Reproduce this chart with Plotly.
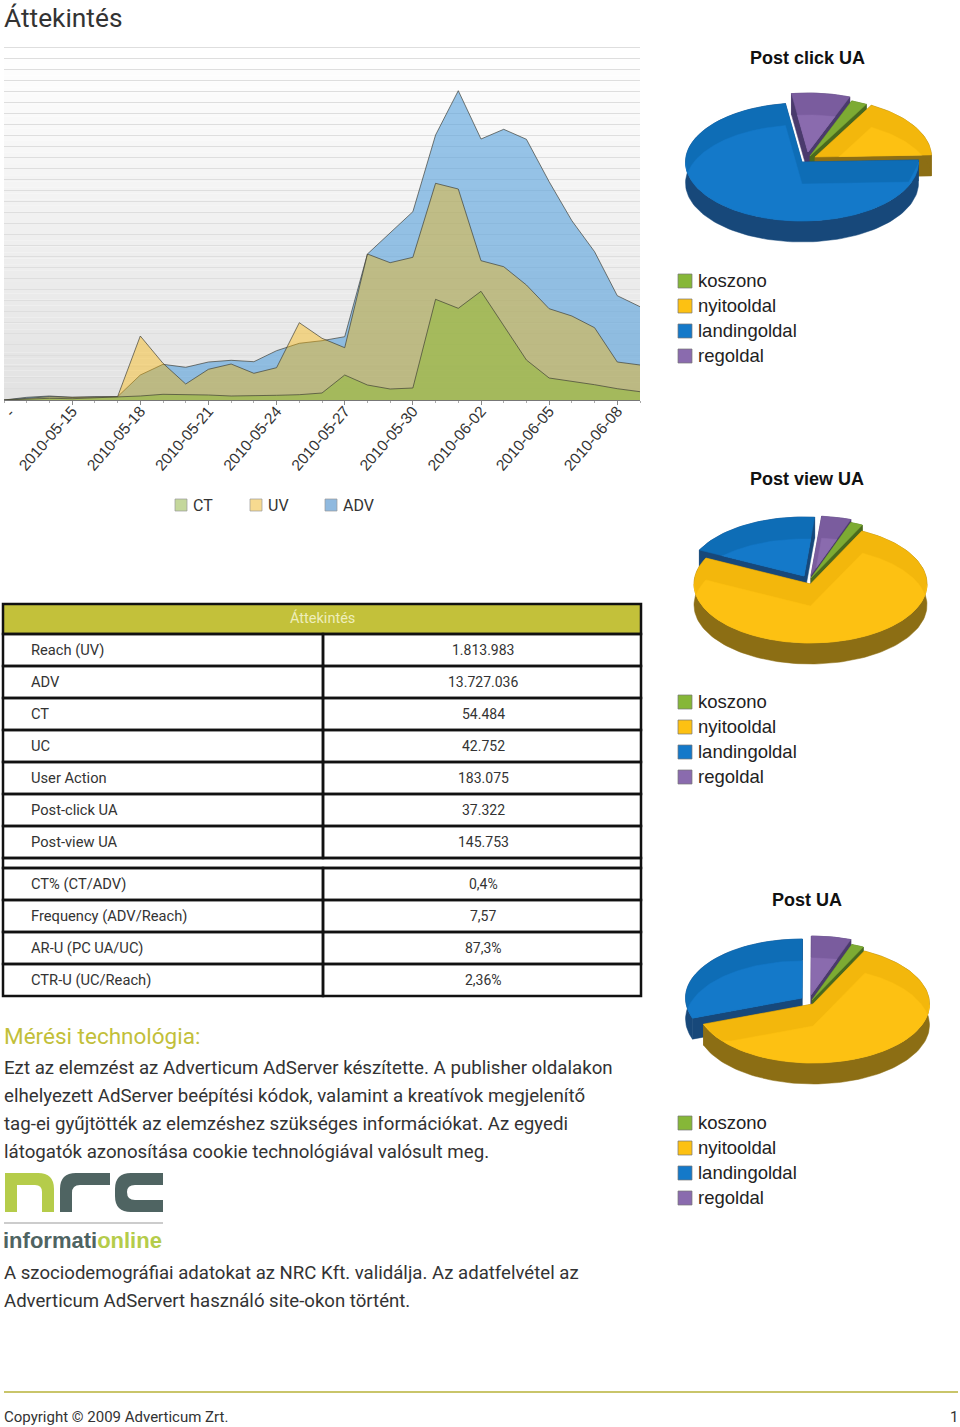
import math
import plotly.graph_objects as go

# ---------- data ----------
dates = ["2010-05-12","2010-05-13","2010-05-14","2010-05-15","2010-05-16","2010-05-17","2010-05-18",
         "2010-05-19","2010-05-20","2010-05-21","2010-05-22","2010-05-23","2010-05-24","2010-05-25",
         "2010-05-26","2010-05-27","2010-05-28","2010-05-29","2010-05-30","2010-05-31","2010-06-01",
         "2010-06-02","2010-06-03","2010-06-04","2010-06-05","2010-06-06","2010-06-07","2010-06-08","2010-06-09"]
adv = [0,2.7,4,2.7,3.3,3.3,25,35.7,32.7,38,39.7,38.3,49.3,56.7,59.3,63.3,146,166.7,188.3,265,309.3,261,270.7,260.7,218.3,179.3,148.3,104.3,93.3]
uv = [0,1.7,3.3,2.7,3.3,3.3,64,36.7,16,30.7,36,26.7,32.3,77.3,61.7,52.3,146,137.3,142.7,216.7,211,139.3,133.3,115,91.3,84,72.3,38,35]
ct = [0,0.7,1.7,1.3,2,2.7,4,5.7,5.7,5,4,4,4.7,5.3,7,25,15,11,12,100.7,91.7,108.7,75,40,22,19,15.3,11.3,8.3]
tick_dates = ["2010-05-15","2010-05-18","2010-05-21","2010-05-24","2010-05-27","2010-05-30","2010-06-02","2010-06-05","2010-06-08"]
tick_labels = list(tick_dates)

slice_labels = ["koszono","nyitooldal","landingoldal","regoldal"]
post_click_values = [2.2,16.4,73.3,8.1]
post_view_values = [1.7,75.0,19.2,4.1]
post_ua_values = [1.7,62.2,30.6,5.5]

row_labels_a = ["Reach (UV)","ADV","CT","UC","User Action","Post-click UA","Post-view UA"]
row_values_a = ["1.813.983","13.727.036","54.484","42.752","183.075","37.322","145.753"]
row_labels_b = ["CT% (CT/ADV)","Frequency (ADV/Reach)","AR-U (PC UA/UC)","CTR-U (UC/Reach)"]
row_values_b = ["0,4%","7,57","87,3%","2,36%"]

body_a = ["Ezt az elemzést az Adverticum AdServer készítette. A publisher oldalakon",
          "elhelyezett AdServer beépítési kódok, valamint a kreatívok megjelenítő",
          "tag-ei gyűjtötték az elemzéshez szükséges információkat. Az egyedi",
          "látogatók azonosítása cookie technológiával valósult meg."]
body_b = ["A szociodemográfiai adatokat az NRC Kft. validálja. Az adatfelvétel az",
          "Adverticum AdServert használó site-okon történt."]

# ---------- style ----------
W, H = 960, 1427
BODY = "Roboto"
SANS = "Liberation Sans"
TXT = "#333333"
slice_top = {"koszono":"#7dab33","nyitooldal":"#f3b70c","landingoldal":"#0e6db6","regoldal":"#7a5c9e"}
slice_light = {"koszono":"#86b738","nyitooldal":"#fdc112","landingoldal":"#1479c9","regoldal":"#8a6bae"}
slice_side = {"koszono":"#496a1e","nyitooldal":"#8c6e14","landingoldal":"#17487a","regoldal":"#4a3a6c"}
RX, RY, DEPTH, SHIFT = 116.5, 59, 21, 22

pies = [
    dict(title="Post click UA", title_y=58, legend_y=281, values=post_click_values, start=69,
         order=["regoldal","koszono","nyitooldal","landingoldal"],
         centers={"koszono":(810,156),"nyitooldal":(815,157),"landingoldal":(802,162),"regoldal":(808,152)}),
    dict(title="Post view UA", title_y=479, legend_y=702, values=post_view_values, start=70,
         order=["regoldal","koszono","landingoldal","nyitooldal"],
         centers={"koszono":(811,578),"nyitooldal":(810.5,584),"landingoldal":(804,576),"regoldal":(811,575)}),
    dict(title="Post UA", title_y=900, legend_y=1123, values=post_ua_values, start=70,
         order=["regoldal","koszono","landingoldal","nyitooldal"],
         centers={"koszono":(812,1000),"nyitooldal":(813,1004),"landingoldal":(802,998),"regoldal":(811,995)}),
]

fig = go.Figure()

# ---------- area chart ----------
area = [("ADV", adv, "rgba(85,160,220,0.6)"),
        ("UV", uv, "rgba(252,183,5,0.42)"),
        ("CT", ct, "rgba(132,187,38,0.42)")]
for name, vals, col in area:
    fig.add_trace(go.Scatter(x=dates, y=vals, name=name, mode="lines", fill="tozeroy",
                             fillcolor=col, line=dict(color="rgba(60,60,50,0.75)", width=0.9),
                             xaxis="x", yaxis="y", showlegend=False, hoverinfo="skip"))

# ---------- helpers for pies ----------
def rim(c, t):
    return (c[0] + RX * math.cos(t), c[1] - RY * math.sin(t))

def arc(c, a0, a1, step=2.0):
    n = max(2, int(abs(a1 - a0) / step) + 1)
    return [rim(c, math.radians(a0 + (a1 - a0) * i / (n - 1))) for i in range(n)]

def poly(pts, col):
    if not pts:
        return
    xs = [p[0] for p in pts] + [pts[0][0]]
    ys = [p[1] for p in pts] + [pts[0][1]]
    fig.add_trace(go.Scatter(x=xs, y=ys, mode="lines", fill="toself", fillcolor=col,
                             line=dict(color=col, width=0.5), xaxis="x2", yaxis="y2",
                             showlegend=False, hoverinfo="skip"))

def convex_clip(subject, clip):
    area2 = sum(clip[i][0] * clip[(i + 1) % len(clip)][1] - clip[(i + 1) % len(clip)][0] * clip[i][1]
                for i in range(len(clip)))
    sgn = 1 if area2 > 0 else -1
    out = subject
    for i in range(len(clip)):
        a, b = clip[i], clip[(i + 1) % len(clip)]
        def side(p):
            return sgn * ((b[0] - a[0]) * (p[1] - a[1]) - (b[1] - a[1]) * (p[0] - a[0]))
        new = []
        for j in range(len(out)):
            p, q = out[j], out[(j + 1) % len(out)]
            sp, sq = side(p), side(q)
            if sp >= 0:
                new.append(p)
            if sp * sq < 0:
                u = sp / (sp - sq)
                new.append((p[0] + u * (q[0] - p[0]), p[1] + u * (q[1] - p[1])))
        out = new
        if not out:
            break
    return out

def highlight(c, a0, a1):
    sector = [c] + arc(c, a0, a1)
    shifted = [(x, y + SHIFT) for x, y in sector]
    if abs(a1 - a0) < 180:
        return convex_clip(shifted, sector)
    dense = []
    for i in range(len(shifted)):
        p, q = shifted[i], shifted[(i + 1) % len(shifted)]
        for k in range(12):
            dense.append((p[0] + (q[0] - p[0]) * k / 12, p[1] + (q[1] - p[1]) * k / 12))
    res = []
    for x, y in dense:
        dx = max(-1, min(1, (x - c[0]) / RX))
        res.append((x, min(y, c[1] + RY * math.sqrt(1 - dx * dx))))
    return res

for pie in pies:
    total = sum(pie["values"])
    angles = {}
    a = pie["start"]
    for lab, v in zip(slice_labels, pie["values"]):
        b = a - 360 * v / total
        angles[lab] = (a, b)
        a = b
    for lab in pie["order"]:
        c = pie["centers"][lab]
        a0, a1 = angles[lab]
        side = slice_side[lab]
        for ang in (a0, a1):
            e = rim(c, math.radians(ang))
            poly([c, e, (e[0], e[1] + DEPTH), (c[0], c[1] + DEPTH)], side)
        pts = arc(c, a0, a1)
        poly(pts + [(x, y + DEPTH) for x, y in reversed(pts)], side)
        poly([c] + pts, slice_top[lab])
        poly(highlight(c, a0, a1), slice_light[lab])

# ---------- annotations and shapes ----------
ann = []
shapes = []

def text(x, y, s, size=14, color=TXT, family=BODY, anchor="left", bold=False, angle=0):
    if bold:
        s = "<b>" + s + "</b>"
    # annotations pad their text by 2 px
    px = {"left": x - 2, "right": x + 2, "center": x}[anchor]
    ann.append(dict(x=px, y=y, xref="x2", yref="y2", text=s, showarrow=False, xanchor=anchor,
                    yanchor="middle", textangle=angle, font=dict(size=size, color=color, family=family)))

def rect(x0, y0, x1, y1, fill=None, line=None, width=0):
    shapes.append(dict(type="rect", xref="x2", yref="y2", x0=x0, y0=y0, x1=x1, y1=y1,
                       fillcolor=fill or "rgba(0,0,0,0)",
                       line=dict(color=line or "rgba(0,0,0,0)", width=width)))

# chart background gradient
bg_top, bg_bottom, bands = 46, 400, 60
for i in range(bands):
    y0 = bg_top + (bg_bottom - bg_top) * i / bands
    y1 = bg_top + (bg_bottom - bg_top) * (i + 1) / bands
    g = round(255 - 29 * i / (bands - 1))
    shapes.append(dict(type="rect", xref="paper", yref="paper", x0=4 / W, x1=640 / W,
                       y0=1 - y0 / H, y1=1 - y1 / H, layer="below",
                       fillcolor=f"rgb({g},{g},{g})", line=dict(width=0)))

text(4, 18, "Áttekintés", size=26.3, color="#333333")
text(9, 412, "-", size=15, family=SANS, anchor="center", angle=-45)

# chart legend
for x, lab, col in [(175, "CT", "#c4d79b"), (250, "UV", "#f7da90"), (325, "ADV", "#8fb9df")]:
    rect(x, 499, x + 12, 511, fill=col, line="#999999", width=0.7)
    text(x + 18, 505, lab, size=16, family=BODY)

# pie titles and legends
for pie in pies:
    text(807, pie["title_y"], pie["title"], size=18, color="#111111", family=SANS, anchor="center", bold=True)
    for i, lab in enumerate(slice_labels):
        y = pie["legend_y"] + 25 * i
        rect(678, y - 7, 692, y + 7, fill=slice_light[lab], line="#777777", width=0.7)
        text(698, y - 0.7, lab, size=18.5, color="#222222", family=SANS)

# table
OLIVE = "#c3c13a"
rect(3, 604, 641, 634, fill=OLIVE, line="#111111", width=2.5)
text(322, 618, "Áttekintés", size=14.5, color="#eeeebb", anchor="center")
y = 634
for labs, vals in [(row_labels_a, row_values_a), (row_labels_b, row_values_b)]:
    for lab, val in zip(labs, vals):
        rect(3, y, 323, y + 32, line="#111111", width=2.5)
        rect(323, y, 641, y + 32, line="#111111", width=2.5)
        text(31, y + 15.5, lab, size=14.7)
        text(483, y + 15.5, val, size=14, anchor="center")
        y += 32
    if labs is row_labels_a:
        rect(3, y, 641, y + 10, line="#111111", width=2.5)
        y += 10

# body
text(4, 1036, "Mérési technológia:", size=22.5, color="#c2bf3a")
for i, line in enumerate(body_a):
    text(4, 1067.7 + 28 * i, line, size=18.7)
for i, line in enumerate(body_b):
    text(4, 1272.7 + 28 * i, line, size=18.6)

# logo
GREEN, DARK = "#b5cc4a", "#4f6462"
logo = [
    ("M5,1212 L5,1173 L38,1173 Q54,1173 54,1189 L54,1212 L42,1212 L42,1192 Q42,1185 35,1185 L17,1185 L17,1212 Z", GREEN),
    ("M60,1212 L60,1189 Q60,1173 76,1173 L110,1173 L110,1185 L80,1185 Q72,1185 72,1193 L72,1212 Z", DARK),
    ("M163,1173 L131,1173 Q115,1173 115,1189 L115,1196 Q115,1212 131,1212 L163,1212 L163,1200 L135,1200 Q127,1200 127,1192 Q127,1185 135,1185 L163,1185 Z", DARK),
]
for path, col in logo:
    shapes.append(dict(type="path", xref="x2", yref="y2", path=path, fillcolor=col, line=dict(width=0)))
shapes.append(dict(type="line", xref="x2", yref="y2", x0=4, x1=163, y0=1223, y1=1223, line=dict(color="#999999", width=1)))
text(3, 1240, f'<span style="color:{DARK}">informati</span><span style="color:{GREEN}">online</span>',
     size=22, family=SANS, bold=True)

# footer
shapes.append(dict(type="line", xref="x2", yref="y2", x0=4, x1=958, y0=1392, y1=1392, line=dict(color="#c9c56a", width=2)))
text(4, 1417, "Copyright © 2009 Adverticum Zrt.", size=15)
text(958, 1417, "1", size=15, anchor="right")

fig.update_layout(
    width=W, height=H, margin=dict(l=0, r=0, t=0, b=0), paper_bgcolor="white", plot_bgcolor="rgba(0,0,0,0)",
    showlegend=False, annotations=ann, shapes=shapes,
    xaxis=dict(domain=[4 / W, 640 / W], type="date", range=["2010-05-12", "2010-06-09"], tickmode="array",
               tickvals=tick_dates, ticktext=tick_labels, tickangle=-49, showgrid=False, zeroline=False,
               anchor="y", tickfont=dict(family=SANS, size=15.5, color="#333333"),
               ticks="outside", ticklen=4, tickwidth=1, tickcolor="#888888", ticklabelstandoff=-9,
               minor=dict(ticks="outside", dtick=86400000, ticklen=2, tickwidth=1, tickcolor="#aaaaaa"),
               showline=True, linecolor="#777777", linewidth=1),
    yaxis=dict(domain=[1 - 400 / H, 1 - 46 / H], range=[0, 354], tick0=0, dtick=11.03, showticklabels=False,
               showgrid=True, gridcolor="#dedede", gridwidth=1, zeroline=False, anchor="x", ticks=""),
    xaxis2=dict(domain=[0, 1], range=[0, W], visible=False, anchor="y2", fixedrange=True),
    yaxis2=dict(domain=[0, 1], range=[H, 0], visible=False, anchor="x2", fixedrange=True),
)
fig.write_html("out.html", config=dict(displayModeBar=False), post_script="document.body.style.margin='0';")
